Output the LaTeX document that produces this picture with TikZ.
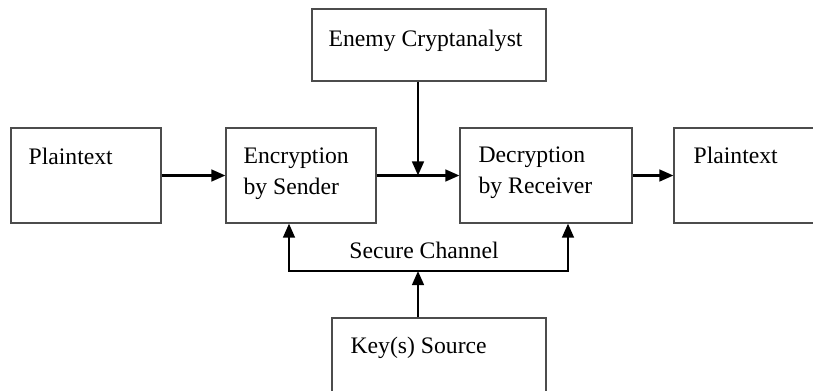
\documentclass[tikz,border=0pt]{standalone}
\usepackage{fontspec}
\setmainfont{Liberation Serif}
\usetikzlibrary{arrows.meta}

\begin{document}
\begin{tikzpicture}[x=0.03cm,y=-0.03cm,
    box/.style={draw=black!70,line width=1pt,rectangle,inner sep=0pt},
    txt/.style={anchor=base west,align=left,inner sep=0pt,font=\fontsize{20.2pt}{26.4pt}\selectfont},
    flow/.style={-{Triangle[length=12pt,width=10pt]},line width=2pt}]
    \useasboundingbox (0,0) rectangle (813,390);
    \clip (0,0) rectangle (813,390);

    % blocks
    \node [box,minimum width=4.5cm,minimum height=2.85cm] (plainL) at (86,175.5) {};
    \node [box,minimum width=4.5cm,minimum height=2.85cm] (enc) at (301,175.5) {};
    \node [box,minimum width=7.02cm,minimum height=2.16cm] (enemy) at (429,45) {};
    \node [box,minimum width=5.16cm,minimum height=2.85cm] (dec) at (546,175.5) {};
    \node [box,minimum width=4.68cm,minimum height=2.85cm] (plainR) at (752,175.5) {};
    \node [box,minimum width=6.42cm,minimum height=2.76cm] (key) at (439,364) {};

    % labels (base = last line)
    \node [txt] (plainLt) at ([shift={(18,37)}]plainL.north west) {Plaintext};
    \node [txt] (enct) at ([shift={(18,67)}]enc.north west) {Encryption\\by Sender};
    \node [txt] (enemyt) at ([shift={(17,38)}]enemy.north west) {Enemy Cryptanalyst};
    \node [txt] (dect) at ([shift={(19,66)}]dec.north west) {Decryption\\by Receiver};
    \node [txt] (plainRt) at ([shift={(20,36)}]plainR.north west) {Plaintext};
    \node [txt] (keyt) at ([shift={(19,36)}]key.north west) {Key(s) Source};

    % message path
    \draw [flow] (plainL.east) -- (enc.west);
    \draw [flow] (enc.east) -- (dec.west);
    \draw [flow] (dec.east) -- (plainR.west);

    \coordinate (tap) at (418,175.5);
    \draw [flow] (enemy.south -| tap) -- (tap);

    % key distribution
    \coordinate (join) at (418,271);
    \coordinate (chL) at (289,271);
    \coordinate (chR) at (568,271);
    \draw [flow] (key.north -| join) -- (join);
    \draw [flow,{Triangle[length=12pt,width=10pt]}-{Triangle[length=12pt,width=10pt]}] (enc.south -| chL) |- (chR) -- (dec.south -| chR);
    \node [txt,anchor=base] (chan) at (424,258) {Secure Channel};
\end{tikzpicture}
\end{document}
